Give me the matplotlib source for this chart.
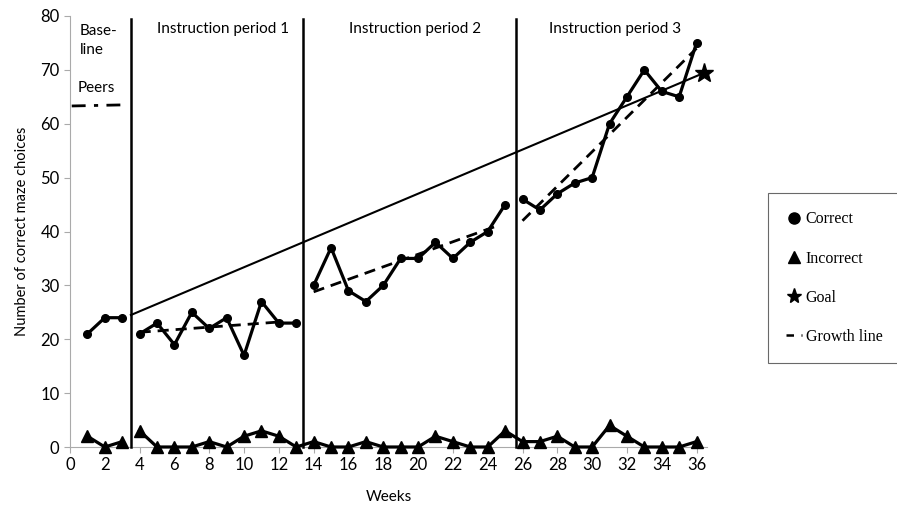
import numpy as np
import matplotlib
matplotlib.use("Agg")
import matplotlib.pyplot as plt
from matplotlib.lines import Line2D

# data
weeks_base = [1, 2, 3]
weeks_p1 = list(range(4, 14))
weeks_p2 = list(range(14, 26))
weeks_p3 = list(range(26, 37))
correct_base = [21, 24, 24]
correct_p1 = [21, 23, 19, 25, 22, 24, 17, 27, 23, 23]
correct_p2 = [30, 37, 29, 27, 30, 35, 35, 38, 35, 38, 40, 45]
correct_p3 = [46, 44, 47, 49, 50, 60, 65, 70, 66, 65, 75]
incorrect = [2, 0, 1, 3, 0, 0, 0, 1, 0, 2, 3, 2, 0, 1, 0, 0, 1, 0,
             0, 0, 2, 1, 0, 0, 3, 1, 1, 2, 0, 0, 4, 2, 0, 0, 0, 1]
phase_lines = [3.5, 13.4, 25.6]
goal_x = [3.5, 36.4]
goal_y = [24.5, 69.4]
peers_x = [0.1, 3.0]
peers_y = [63.3, 63.5]
growth_p1_x, growth_p1_y = [4, 12], [21.3, 23.2]
growth_p2_x, growth_p2_y = [14, 24.5], [28.8, 41.0]
growth_p3_x, growth_p3_y = [26, 36], [42.0, 74.0]

plt.rcParams['font.family'] = ['Lato', 'DejaVu Sans']

fig = plt.figure(figsize=(8.97, 5.07), dpi=100)
ax = fig.add_axes([70/897, 1-447/507, 637/897, 431/507])

lw = 2.3
for xs, ys in [(weeks_base, correct_base), (weeks_p1, correct_p1),
               (weeks_p2, correct_p2), (weeks_p3, correct_p3)]:
    ax.plot(xs, ys, color='black', lw=lw, marker='o', ms=5.5, zorder=4)

wk = np.arange(1, 37)
inc = np.array(incorrect)
ax.plot(wk[:3], inc[:3], color='black', lw=lw, marker='^', ms=9, zorder=4, clip_on=False)
ax.plot(wk[3:], inc[3:], color='black', lw=lw, marker='^', ms=9, zorder=4, clip_on=False)

for gx, gy in [(growth_p1_x, growth_p1_y), (growth_p2_x, growth_p2_y), (growth_p3_x, growth_p3_y)]:
    ax.plot(gx, gy, color='black', lw=2, ls=(0, (4, 2.5)), zorder=3)

ax.plot(goal_x, goal_y, color='black', lw=1.5, zorder=3)
ax.plot(goal_x[-1], goal_y[-1], marker='*', color='black', ms=14, zorder=5, clip_on=False)

ax.plot(peers_x, peers_y, color='black', lw=2, ls=(0, (5, 3, 1.5, 3)), zorder=3)

for px in phase_lines:
    ax.plot([px, px], [0, 79.5], color='black', lw=1.8, zorder=3, clip_on=False)

ax.set_xlim(0, 36.6)
ax.set_ylim(0, 80)
ax.set_xticks(range(0, 37, 2))
ax.set_yticks(range(0, 81, 10))
for s in ['top', 'right']:
    ax.spines[s].set_visible(False)
ax.spines['left'].set_color('#aaaaaa')
ax.spines['bottom'].set_color('#aaaaaa')
ax.tick_params(colors='#aaaaaa', labelcolor='black', labelsize=12, length=4)
ax.set_xlabel('Weeks', fontsize=11, labelpad=12)
ax.set_ylabel('Number of correct maze choices', fontsize=10.5, labelpad=8)

ax.text(0.55, 78.5, 'Base-\nline', fontsize=11, va='top', ha='left', linespacing=1.45)
ax.text(0.45, 66.6, 'Peers', fontsize=11, va='center', ha='left')
ax.text(8.8, 77.5, 'Instruction period 1', fontsize=11, va='center', ha='center')
ax.text(19.8, 77.5, 'Instruction period 2', fontsize=11, va='center', ha='center')
ax.text(31.3, 77.5, 'Instruction period 3', fontsize=11, va='center', ha='center')

handles = [
    Line2D([], [], color='black', marker='o', ls='none', ms=8),
    Line2D([], [], color='black', marker='^', ls='none', ms=8),
    Line2D([], [], color='black', marker='*', ls='none', ms=11),
    Line2D([], [], color='black', ls=(0, (3, 3)), lw=1.8),
]
leg = fig.legend(handles, ['Correct', 'Incorrect', 'Goal', 'Growth line'],
                 loc='upper left', bbox_to_anchor=(768/897, 1-193/507),
                 frameon=True, fancybox=False, edgecolor='#444444',
                 prop={'family': 'Liberation Serif', 'size': 11.5},
                 labelspacing=1.45, handlelength=1.0, handletextpad=0.2,
                 borderpad=1.15, borderaxespad=0)
leg.get_frame().set_linewidth(0.8)

fig.savefig('out.png', dpi=100)
